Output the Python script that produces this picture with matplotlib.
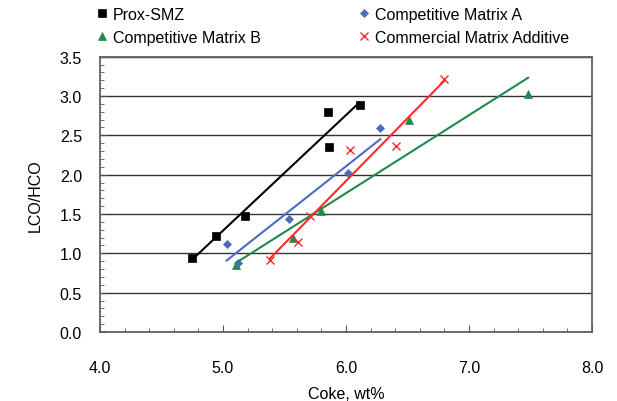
import numpy as np
import matplotlib
matplotlib.use("Agg")
import matplotlib.pyplot as plt
from matplotlib.ticker import MultipleLocator, FormatStrFormatter

plt.rcParams["font.family"] = ["Liberation Sans", "DejaVu Sans"]

# coke (wt%) vs LCO/HCO for each catalyst
prox_x = [4.75, 4.94, 5.18, 5.85, 5.86, 6.11]
prox_y = [0.94, 1.22, 1.48, 2.80, 2.35, 2.89]

matA_x = [5.03, 5.12, 5.54, 6.02, 6.28]
matA_y = [1.12, 0.88, 1.44, 2.02, 2.59]

matB_x = [5.11, 5.57, 5.80, 6.51, 7.48]
matB_y = [0.85, 1.19, 1.54, 2.69, 3.02]

comm_x = [5.38, 5.61, 5.71, 6.03, 6.41, 6.80]
comm_y = [0.91, 1.15, 1.48, 2.31, 2.36, 3.21]

series = [
    ("Prox-SMZ", prox_x, prox_y, "black", "s", 5.5),
    ("Competitive Matrix B", matB_x, matB_y, "#1e8a4c", "^", 6),
    ("Competitive Matrix A", matA_x, matA_y, "#4a6cbd", "D", 4.2),
    ("Commercial Matrix Additive", comm_x, comm_y, "#ff2a2a", "x", 5.5),
]

fig = plt.figure(figsize=(6.17, 4.02), dpi=100)
ax = fig.add_axes([0.162, 0.1716, 0.7975, 0.685])

handles = []
for name, xs, ys, col, mk, ms in series:
    xs = np.array(xs)
    ys = np.array(ys)
    h, = ax.plot(xs, ys, linestyle="none", marker=mk, color=col, markersize=ms,
                 markeredgewidth=1.0 if mk == "x" else 0.5, label=name, zorder=3)
    handles.append(h)
    # linear trend line over the data range
    k, b = np.polyfit(xs, ys, 1)
    xx = np.array([xs.min(), xs.max()])
    ax.plot(xx, k * xx + b, color=col, linewidth=1.5, zorder=4)

ax.set_xlim(4.0, 8.0)
ax.set_ylim(0.0, 3.5)
ax.xaxis.set_major_locator(MultipleLocator(1.0))
ax.xaxis.set_minor_locator(MultipleLocator(0.2))
ax.yaxis.set_major_locator(MultipleLocator(0.5))
ax.yaxis.set_minor_locator(MultipleLocator(0.1))
ax.xaxis.set_major_formatter(FormatStrFormatter("%.1f"))
ax.yaxis.set_major_formatter(FormatStrFormatter("%.1f"))

ax.grid(axis="y", color="#333333", linewidth=1.0, zorder=1)
ax.set_axisbelow(True)

fs = 11.5
ax.tick_params(axis="x", which="major", direction="in", length=5, pad=20,
               labelsize=fs, color="#555555")
ax.tick_params(axis="x", which="minor", direction="in", length=3, color="#555555")
ax.tick_params(axis="y", which="major", direction="in", length=4, pad=13,
               labelsize=fs, color="#555555")
ax.tick_params(axis="y", which="minor", direction="in", length=3, color="#555555")

for s in ax.spines.values():
    s.set_color("#606060")
    s.set_linewidth(1.3)

ax.set_xlabel("Coke, wt%", fontsize=fs, labelpad=8)
ax.set_ylabel("LCO/HCO", fontsize=fs, labelpad=12)

fig.legend(handles=handles, loc="upper left", bbox_to_anchor=(0.145, 0.997),
           ncol=2, frameon=False, fontsize=fs, handlelength=0.8,
           handletextpad=0.25, columnspacing=6.1, labelspacing=0.5,
           borderaxespad=0)

fig.savefig("out.png", dpi=100)
